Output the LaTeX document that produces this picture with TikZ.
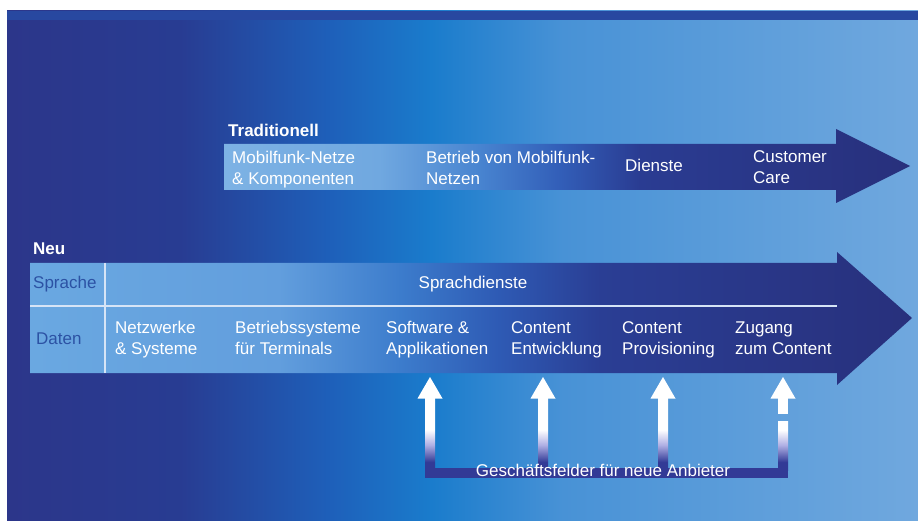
\documentclass[tikz,border=0pt]{standalone}
\usepackage{fontspec}
\setmainfont{Liberation Sans}

% palette
\definecolor{bgA}{RGB}{44,54,138}
\definecolor{bgB}{RGB}{40,60,146}
\definecolor{bgC}{RGB}{30,96,186}
\definecolor{bgD}{RGB}{26,124,204}
\definecolor{bgE}{RGB}{72,146,214}
\definecolor{bgF}{RGB}{112,168,222}
\definecolor{bandcol}{RGB}{40,72,160}
\definecolor{trA}{RGB}{125,178,228}
\definecolor{trB}{RGB}{112,168,224}
\definecolor{trC}{RGB}{72,132,208}
\definecolor{trD}{RGB}{50,94,184}
\definecolor{trE}{RGB}{42,60,146}
\definecolor{trF}{RGB}{40,48,124}
\definecolor{nuA}{RGB}{106,168,225}
\definecolor{nuB}{RGB}{98,158,221}
\definecolor{nuC}{RGB}{60,124,204}
\definecolor{nuD}{RGB}{46,90,180}
\definecolor{nuE}{RGB}{42,62,148}
\definecolor{nuF}{RGB}{40,48,124}
\definecolor{navybar}{RGB}{50,58,150}
\definecolor{lavender}{RGB}{176,176,228}
\definecolor{celltext}{RGB}{44,82,164}
\definecolor{ruled}{RGB}{214,228,246}

% horizontal shadings: the path's left edge sits at 25bp, its right edge at 75bp
\pgfdeclarehorizontalshading{panelshade}{100bp}{color(0bp)=(bgA); color(25bp)=(bgA); color(34.5bp)=(bgB); color(42.8bp)=(bgC); color(48.3bp)=(bgD); color(55.5bp)=(bgE); color(75bp)=(bgF); color(100bp)=(bgF)}
\pgfdeclarehorizontalshading{tradshade}{100bp}{color(0bp)=(trA); color(25bp)=(trA); color(36.3bp)=(trB); color(43.6bp)=(trC); color(49.5bp)=(trD); color(55.3bp)=(trE); color(75bp)=(trF); color(100bp)=(trF)}
\pgfdeclarehorizontalshading{neushade}{100bp}{color(0bp)=(nuA); color(25bp)=(nuA); color(39.1bp)=(nuB); color(46bp)=(nuC); color(51.6bp)=(nuD); color(57.3bp)=(nuE); color(75bp)=(nuF); color(100bp)=(nuF)}
% vertical shadings for the arrow shafts: bottom at 25bp, top at 75bp
\pgfdeclareverticalshading{shaftfade}{100bp}{color(0bp)=(navybar); color(25bp)=(navybar); color(30.5bp)=(navybar); color(42.5bp)=(lavender); color(53bp)=(white); color(100bp)=(white)}
\pgfdeclareverticalshading{shaftfadeshort}{100bp}{color(0bp)=(navybar); color(25bp)=(navybar); color(33bp)=(navybar); color(50.5bp)=(lavender); color(66bp)=(white); color(100bp)=(white)}

\newcommand{\twolines}[2]{\begin{tabular}[t]{@{}l@{}}#1\\#2\end{tabular}}

\begin{document}
\begin{tikzpicture}[x=1pt,y=-1pt,
  lbl/.style={text=white, font=\fontsize{17}{21}\selectfont, inner sep=0pt, anchor=base west},
  lblb/.style={lbl, font=\fontsize{17}{21}\selectfont\bfseries},
  cell/.style={lbl, text=celltext},
  rule/.style={draw=ruled, line width=1.4pt},
  headtip/.style={fill=white}]
\renewcommand{\arraystretch}{1}
\useasboundingbox (0,0) rectangle (918,521);
\fill[white] (0,0) rectangle (918,521);

% backdrop panel and its top band
\shade[shading=panelshade] (7,11) rectangle (918,521);
\fill[bandcol] (7,11) rectangle (918,20);

% traditional value chain
\shade[shading=tradshade] (224,144) -- (836,144) -- (836,129) -- (910,166)
  -- (836,203) -- (836,190) -- (224,190) -- cycle;
\node[lblb] (trad) at (228,137) {Traditionell};
\node[lbl] (t1) at (232,164) {\twolines{Mobilfunk-Netze}{\& Komponenten}};
\node[lbl] (t2) at (426,164) {\twolines{Betrieb von Mobilfunk-}{Netzen}};
\node[lbl] (t3) at (625,172) {Dienste};
\node[lbl] (t4) at (753,163) {\twolines{Customer}{Care}};

% new value chain
\shade[shading=neushade] (30,263) -- (837,263) -- (837,252) -- (912,318)
  -- (837,385) -- (837,373) -- (30,373) -- cycle;
\draw[rule] (30,306) -- (837,306);
\draw[rule] (105,263) -- (105,373);
\node[lblb] (neu) at (33,255) {Neu};
\node[cell] (sprache) at (33,288) {Sprache};
\node[cell] (daten) at (36,344) {Daten};
\node[lbl, anchor=base] (sd) at (473,288) {Sprachdienste};
\node[lbl] (d1) at (115,333) {\twolines{Netzwerke}{\& Systeme}};
\node[lbl] (d2) at (235,333) {\twolines{Betriebssysteme}{für Terminals}};
\node[lbl] (d3) at (386,333) {\twolines{Software \&}{Applikationen}};
\node[lbl] (d4) at (511,333) {\twolines{Content}{Entwicklung}};
\node[lbl] (d5) at (622,333) {\twolines{Content}{Provisioning}};
\node[lbl] (d6) at (735,333) {\twolines{Zugang}{zum Content}};

% arrows for new providers rising from a common bracket
\foreach \cx in {430,543,663} {
  \shade[shading=shaftfade] (\cx-5,398) rectangle (\cx+5,470);
  \fill[headtip] (\cx-12.5,398.5) -- (\cx,377) -- (\cx+12.5,398.5) -- cycle;
}
\fill[white] (778,398) rectangle (788,414);
\shade[shading=shaftfadeshort] (778,421) rectangle (788,470);
\fill[headtip] (770.5,398.5) -- (783,377) -- (795.5,398.5) -- cycle;
\fill[navybar] (425,468) rectangle (788,478);
\node[lbl, anchor=base] (neue) at (603,476) {Geschäftsfelder für neue Anbieter};
\end{tikzpicture}
\end{document}
